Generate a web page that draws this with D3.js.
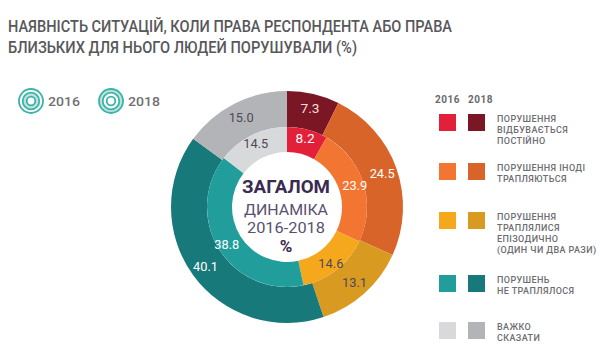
<!DOCTYPE html>
<html><head><meta charset="utf-8">
<script src="https://cdn.jsdelivr.net/npm/d3@7"></script>
<style>
html,body{margin:0;padding:0;background:#fff;}
svg{display:block;}
</style></head>
<body>
<svg id="c" width="600" height="364"></svg>
<script>
const categories = [
  ["ПОРУШЕННЯ", "ВІДБУВАЄТЬСЯ", "ПОСТІЙНО"],
  ["ПОРУШЕННЯ ІНОДІ", "ТРАПЛЯЮТЬСЯ"],
  ["ПОРУШЕННЯ", "ТРАПЛЯЛИСЯ", "ЕПІЗОДИЧНО", "(ОДИН ЧИ ДВА РАЗИ)"],
  ["ПОРУШЕНЬ", "НЕ ТРАПЛЯЛОСЯ"],
  ["ВАЖКО", "СКАЗАТИ"]
];
const years = ["2016", "2018"];
const values2016 = [8.2, 23.9, 14.6, 38.8, 14.5];
const values2018 = [7.3, 24.5, 13.1, 40.1, 15.0];
const colors2016 = ["#e3203a", "#f37532", "#f6a81d", "#219e9b", "#d8d9db"];
const colors2018 = ["#7b1624", "#d8642a", "#d99a22", "#17797a", "#b3b4b8"];
const labelColors2016 = ["#ffffff", "#ffffff", "#4d4a57", "#ffffff", "#4d4a57"];
const labelColors2018 = ["#f4dede", "#ffffff", "#4d4a57", "#ffffff", "#4d4a57"];
const titleLines = ["НАЯВНІСТЬ СИТУАЦІЙ, КОЛИ ПРАВА РЕСПОНДЕНТА АБО ПРАВА", "БЛИЗЬКИХ ДЛЯ НЬОГО ЛЮДЕЙ ПОРУШУВАЛИ (%)"];
const centerLines = ["ЗАГАЛОМ", "ДИНАМІКА", "2016-2018", "%"];

const svg = d3.select("#c");
const font = "Roboto, 'Open Sans', sans-serif";

// Title
const titleWidths = [444, 349];
svg.selectAll("text.title").data(titleLines).join("text")
  .attr("class", "title")
  .attr("x", 8).attr("y", (d, i) => 32 + i * 21)
  .attr("font-family", font).attr("font-size", 16.5).attr("font-weight", 500)
  .attr("fill", "#58585b")
  .attr("textLength", (d, i) => titleWidths[i]).attr("lengthAdjust", "spacingAndGlyphs")
  .text(d => d);

// Year legend icons (top left)
const iconData = [{x: 31, year: years[0], inner: true}, {x: 111, year: years[1], inner: false}];
const teal = "#3bb3a7", tealLight = "#bfe3de";
iconData.forEach(ic => {
  const g = svg.append("g").attr("transform", `translate(${ic.x},101)`);
  g.append("circle").attr("r", 12).attr("fill", ic.inner ? "#fff" : tealLight).attr("stroke", teal).attr("stroke-width", 1.8);
  g.append("circle").attr("r", 8.3).attr("fill", ic.inner ? tealLight : "#fff").attr("stroke", teal).attr("stroke-width", 1.8);
  g.append("circle").attr("r", 4.3).attr("fill", "#fff").attr("stroke", teal).attr("stroke-width", 1.8);
  svg.append("text").attr("x", ic.x + 17).attr("y", 106)
    .attr("font-family", font).attr("font-size", 13.5).attr("font-weight", 500)
    .attr("fill", "#707074").attr("textLength", 32).attr("lengthAdjust", "spacingAndGlyphs")
    .text(ic.year);
});

// Donut
const cx = 287, cy = 207;
const pie = d3.pie().sort(null).value(d => d);
const arcsIn = pie(values2016), arcsOut = pie(values2018);
const arcIn = d3.arc().innerRadius(55).outerRadius(80);
const arcOut = d3.arc().innerRadius(80).outerRadius(116);
const g = svg.append("g").attr("transform", `translate(${cx},${cy})`);
g.selectAll("path.out").data(arcsOut).join("path").attr("class", "out")
  .attr("d", arcOut).attr("fill", (d, i) => colors2018[i]);
g.selectAll("path.in").data(arcsIn).join("path").attr("class", "in")
  .attr("d", arcIn).attr("fill", (d, i) => colors2016[i]);

const lblIn = d3.arc().innerRadius(71).outerRadius(71);
const lblOut = d3.arc().innerRadius(101).outerRadius(101);
const fmt = d3.format(".1f");
g.selectAll("text.lin").data(arcsIn).join("text").attr("class", "lin")
  .attr("transform", d => `translate(${lblIn.centroid(d)})`)
  .attr("text-anchor", "middle").attr("dy", "0.36em")
  .attr("font-family", font).attr("font-size", 13)
  .attr("fill", (d, i) => labelColors2016[i])
  .attr("textLength", d => d.data < 10 ? 19 : 25).attr("lengthAdjust", "spacingAndGlyphs")
  .text(d => fmt(d.data));
g.selectAll("text.lout").data(arcsOut).join("text").attr("class", "lout")
  .attr("transform", d => `translate(${lblOut.centroid(d)})`)
  .attr("text-anchor", "middle").attr("dy", "0.36em")
  .attr("font-family", font).attr("font-size", 13)
  .attr("fill", (d, i) => labelColors2018[i])
  .attr("textLength", d => d.data < 10 ? 19 : 25).attr("lengthAdjust", "spacingAndGlyphs")
  .text(d => fmt(d.data));

// Center text
const cStyles = [
  {y: -14, size: 18.5, weight: 700, fill: "#3b2a52", w: 88},
  {y: 8, size: 15.5, weight: 400, fill: "#5b5070", w: 84},
  {y: 26, size: 15.5, weight: 400, fill: "#5b5070", w: 78},
  {y: 45, size: 17, weight: 700, fill: "#3b2a52", w: 0}
];
g.selectAll("text.ctr").data(centerLines).join("text").attr("class", "ctr")
  .attr("x", -1).attr("y", (d, i) => cStyles[i].y)
  .attr("text-anchor", "middle")
  .attr("font-family", font)
  .attr("font-size", (d, i) => cStyles[i].size)
  .attr("font-weight", (d, i) => cStyles[i].weight)
  .attr("fill", (d, i) => cStyles[i].fill)
  .each(function(d, i) {
    if (cStyles[i].w) d3.select(this).attr("textLength", cStyles[i].w).attr("lengthAdjust", "spacingAndGlyphs");
  })
  .text(d => d);

// Right legend
const legendRowsY = [114, 163, 212, 275, 322];
svg.selectAll("text.ly").data(years).join("text").attr("class", "ly")
  .attr("x", (d, i) => 435 + i * 33).attr("y", 103)
  .attr("font-family", font).attr("font-size", 10).attr("font-weight", 700)
  .attr("fill", "#6a6a6e").attr("letter-spacing", 0.5)
  .text(d => d);
const rows = svg.selectAll("g.lrow").data(categories).join("g").attr("class", "lrow")
  .attr("transform", (d, i) => `translate(0,${legendRowsY[i]})`);
rows.append("rect").attr("x", 439).attr("width", 17).attr("height", 17)
  .attr("fill", (d, i) => colors2016[i]);
rows.append("rect").attr("x", 468).attr("width", 17).attr("height", 17)
  .attr("fill", (d, i) => colors2018[i]);
rows.each(function(lines) {
  d3.select(this).selectAll("text").data(lines).join("text")
    .attr("x", 497).attr("y", (d, j) => 7.5 + j * 11.3)
    .attr("font-family", font).attr("font-size", 9).attr("font-weight", 500)
    .attr("fill", "#6d6d72").attr("letter-spacing", 0.4)
    .text(d => d);
});
</script>
</body></html>
